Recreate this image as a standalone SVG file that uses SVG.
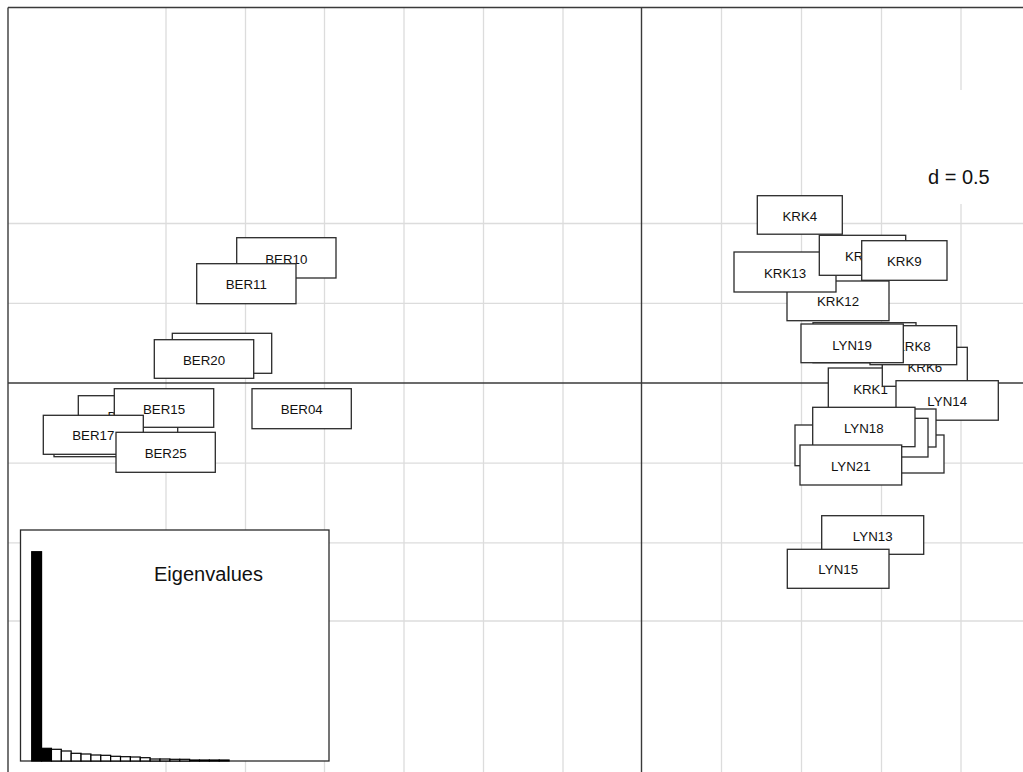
<svg xmlns="http://www.w3.org/2000/svg" width="1023" height="772" viewBox="0 0 1023 772">
<style>
.grid{stroke:#dcdcdc;stroke-width:1.3;fill:none}
.axis{stroke:#3a3a3a;stroke-width:1.4;fill:none}
.box{fill:#fff;stroke:#2a2a2a;stroke-width:1.3}
.lab{font-family:"Liberation Sans",Arial,sans-serif;font-size:13.3px;fill:#111;text-anchor:middle}
.labs{font-family:"Liberation Sans",Arial,sans-serif;font-size:13.3px;fill:#111;text-anchor:start}
.big{font-family:"Liberation Sans",Arial,sans-serif;font-size:20px;fill:#111}
.bar{stroke:#000;stroke-width:1.2}
</style>
<rect x="0" y="0" width="1023" height="772" fill="#fff"/>
<g id="grid">
<line class="grid" x1="166" y1="8" x2="166" y2="772"/>
<line class="grid" x1="245.5" y1="8" x2="245.5" y2="772"/>
<line class="grid" x1="324.5" y1="8" x2="324.5" y2="772"/>
<line class="grid" x1="404" y1="8" x2="404" y2="772"/>
<line class="grid" x1="483.5" y1="8" x2="483.5" y2="772"/>
<line class="grid" x1="563" y1="8" x2="563" y2="772"/>
<line class="grid" x1="721.5" y1="8" x2="721.5" y2="772"/>
<line class="grid" x1="801.5" y1="8" x2="801.5" y2="772"/>
<line class="grid" x1="881.5" y1="8" x2="881.5" y2="772"/>
<line class="grid" x1="961" y1="8" x2="961" y2="772"/>
<line class="grid" x1="8" y1="223.5" x2="1023" y2="223.5"/>
<line class="grid" x1="8" y1="303.3" x2="1023" y2="303.3"/>
<line class="grid" x1="8" y1="463.2" x2="1023" y2="463.2"/>
<line class="grid" x1="8" y1="542.8" x2="1023" y2="542.8"/>
<line class="grid" x1="8" y1="621" x2="1023" y2="621"/>
</g>
<g id="frame">
<line class="axis" x1="8" y1="7.5" x2="1023" y2="7.5"/>
<line class="axis" x1="8" y1="7.5" x2="8" y2="772"/>
<line class="axis" x1="641.5" y1="7.5" x2="641.5" y2="772"/>
<line class="axis" x1="8" y1="383" x2="1023" y2="383"/>
</g>
<g id="scale-label">
<rect x="900" y="90" width="123" height="114" fill="#fff"/>
<text class="big" x="928" y="184">d = 0.5</text>
</g>
<g id="eigenvalues">
<rect x="20.5" y="530" width="308.5" height="231" fill="#fff" stroke="#2a2a2a" stroke-width="1.3"/>
<text class="big" x="154" y="581">Eigenvalues</text>
<rect class="bar" x="31.7" y="551.7" width="9.87" height="209.3" fill="#000"/>
<rect class="bar" x="41.57" y="748.3" width="9.87" height="12.7" fill="#000"/>
<rect class="bar" x="51.44" y="749.3" width="9.87" height="11.7" fill="#fff"/>
<rect class="bar" x="61.31" y="751" width="9.87" height="10" fill="#fff"/>
<rect class="bar" x="71.18" y="753.3" width="9.87" height="7.7" fill="#fff"/>
<rect class="bar" x="81.05" y="754" width="9.87" height="7" fill="#fff"/>
<rect class="bar" x="90.92" y="755" width="9.87" height="6" fill="#fff"/>
<rect class="bar" x="100.79" y="755.3" width="9.87" height="5.7" fill="#fff"/>
<rect class="bar" x="110.66" y="756.3" width="9.87" height="4.7" fill="#fff"/>
<rect class="bar" x="120.53" y="756.7" width="9.87" height="4.3" fill="#fff"/>
<rect class="bar" x="130.4" y="757" width="9.87" height="4" fill="#fff"/>
<rect class="bar" x="140.27" y="757.7" width="9.87" height="3.3" fill="#fff"/>
<rect class="bar" x="150.14" y="759" width="9.87" height="2" fill="#fff"/>
<rect class="bar" x="160.01" y="759" width="9.87" height="2" fill="#fff"/>
<rect class="bar" x="169.88" y="759.3" width="9.87" height="1.7" fill="#fff"/>
<rect class="bar" x="179.75" y="759.3" width="9.87" height="1.7" fill="#fff"/>
<rect class="bar" x="189.62" y="760" width="9.87" height="1" fill="#fff"/>
<rect class="bar" x="199.49" y="760" width="9.87" height="1" fill="#fff"/>
<rect class="bar" x="209.36" y="760" width="9.87" height="1" fill="#fff"/>
<rect class="bar" x="219.23" y="760" width="9.87" height="1" fill="#fff"/>
</g>
<g id="connectors"/>
<g id="BER10"><rect class="box" x="236.7" y="237.7" width="99.3" height="40.3"/><text class="lab" x="286.3" y="263.5">BER10</text></g>
<g id="BER11"><rect class="box" x="196.7" y="263.7" width="99.3" height="40"/><text class="lab" x="246.3" y="289.2">BER11</text></g>
<g id="BER20b"><rect class="box" x="172.3" y="333.3" width="99.4" height="40"/></g>
<g id="BER20"><rect class="box" x="154.3" y="339.7" width="99.4" height="38.6"/><text class="lab" x="204" y="364.5">BER20</text></g>
<g id="BER04"><rect class="box" x="252" y="388.7" width="99.3" height="40"/><text class="lab" x="301.7" y="414.2">BER04</text></g>
<g id="BERb2"><rect class="box" x="54" y="417" width="100" height="39.7"/></g>
<g id="BERb1"><rect class="box" x="78.3" y="395.7" width="99.4" height="40"/><text class="labs" x="107.5" y="421">B</text></g>
<g id="BER15"><rect class="box" x="114.3" y="388.7" width="99.4" height="38.6"/><text class="lab" x="164" y="413.5">BER15</text></g>
<g id="BER17"><rect class="box" x="43.3" y="415.3" width="100" height="39"/><text class="lab" x="93.3" y="440.3">BER17</text></g>
<g id="BER25"><rect class="box" x="116" y="432.3" width="99.3" height="40"/><text class="lab" x="165.7" y="457.8">BER25</text></g>
<g id="KRK4"><rect class="box" x="757.3" y="195.7" width="85" height="38.5"/><text class="lab" x="799.8" y="220.5">KRK4</text></g>
<g id="KRK12"><rect class="box" x="787" y="281" width="102" height="39.7"/><text class="lab" x="838" y="306.3">KRK12</text></g>
<g id="KRK13"><rect class="box" x="734" y="252" width="102" height="40"/><text class="lab" x="785" y="277.5">KRK13</text></g>
<g id="KRKp"><rect class="box" x="819.3" y="235.3" width="86.4" height="40"/><text class="labs" x="845" y="260.8">KR</text></g>
<g id="KRK9"><rect class="box" x="861.7" y="240.7" width="85.3" height="39.6"/><text class="lab" x="904.3" y="266">KRK9</text></g>
<g id="LYNa"><rect class="box" x="813" y="322.7" width="103" height="40"/></g>
<g id="KRK1"><rect class="box" x="828.3" y="368" width="86" height="40"/><text class="lab" x="870.5" y="393.5">KRK1</text></g>
<g id="KRK6"><rect class="box" x="882.3" y="347.3" width="85" height="39"/><text class="lab" x="924.8" y="372.3">KRK6</text></g>
<g id="KRK8"><rect class="box" x="870" y="325.7" width="86.7" height="39"/><text class="lab" x="913.3" y="350.7">KRK8</text></g>
<g id="LYN19"><rect class="box" x="801" y="324" width="102.3" height="38.7"/><text class="lab" x="852" y="349.5">LYN19</text></g>
<g id="LYN14"><rect class="box" x="896" y="380.7" width="102.3" height="39.5"/><text class="lab" x="947.2" y="406">LYN14</text></g>
<g id="LYNe"><rect class="box" x="842" y="435" width="102" height="38"/></g>
<g id="LYNc"><rect class="box" x="834" y="409" width="102" height="38"/></g>
<g id="LYNd"><rect class="box" x="826" y="418.3" width="102" height="38.7"/></g>
<g id="LYNb"><rect class="box" x="795" y="425" width="102" height="40.7"/></g>
<g id="LYN18"><rect class="box" x="812.7" y="407.3" width="102.3" height="39.4"/><text class="lab" x="863.8" y="432.5">LYN18</text></g>
<g id="LYN21"><rect class="box" x="800" y="445" width="101.7" height="40"/><text class="lab" x="850.8" y="470.5">LYN21</text></g>
<g id="LYN13"><rect class="box" x="821.7" y="515.7" width="102" height="38.6"/><text class="lab" x="872.7" y="540.5">LYN13</text></g>
<g id="LYN15"><rect class="box" x="787.3" y="549.3" width="101.7" height="39"/><text class="lab" x="838.2" y="574.3">LYN15</text></g>
</svg>
